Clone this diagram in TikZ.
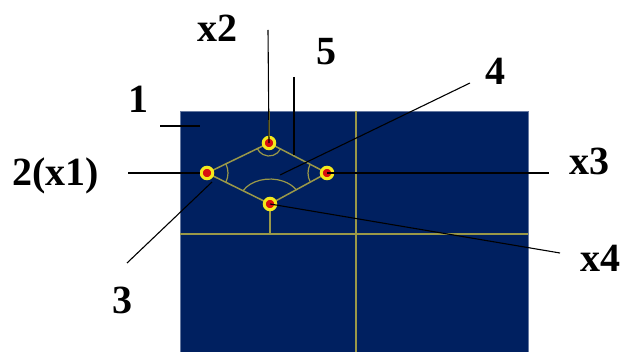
\documentclass[tikz,border=0pt]{standalone}
\usepackage{fontspec}
\setmainfont{Liberation Serif}
\usepackage{tikz}
\usetikzlibrary{positioning,calc}
\definecolor{PanelNavy}{HTML}{002060}
\definecolor{GridOlive}{HTML}{9A9848}
\definecolor{JointRed}{HTML}{D81010}
\definecolor{JointYellow}{HTML}{F4E81C}
\tikzset{
  panel/.style={fill=PanelNavy,draw=PanelNavy!60!white,line width=0.6pt},
  grid/.style={draw=GridOlive,line width=1.5pt},
  angarc/.style={draw=GridOlive,line width=1.2pt},
  lead/.style={draw=black,line width=1.1pt},
  joint/.style={circle,fill=JointRed,draw=JointYellow,line width=3pt,minimum size=11.5pt,inner sep=0pt},
  lbl/.style={font=\fontsize{40}{42}\selectfont\bfseries,inner sep=0pt,anchor=base}
}

\begin{document}
\begin{tikzpicture}[x=1pt,y=-1pt]
\useasboundingbox (0,0) rectangle (620,352);
% plate
\fill[panel] (180,111) rectangle (528,352);
\coordinate (ptop) at (269,143);
\coordinate (pleft) at (207,173);
\coordinate (pright) at (327,173);
\coordinate (pbot) at (270,204);
\draw[grid] (356,111) -- (356,352);
\draw[grid] (180,234) -- (528,234);
\draw[grid] (ptop) -- (pright) -- (pbot) -- (pleft) -- cycle;
\draw[grid] (pbot) -- (270,234);
\draw[grid] (pleft) -- (180,173);
\draw[grid] (ptop) -- (269,111);
\draw[grid] (pright) -- (356,173);

% angles
\draw[angarc] ($(ptop)+(27:13)$) arc[start angle=27,end angle=154,radius=13];
\draw[angarc] ($(pleft)+(-26:21)$) arc[start angle=-26,end angle=26,radius=21];
\draw[angarc] ($(pright)+(151:19)$) arc[start angle=151,end angle=208,radius=19];
\draw[angarc] ($(pbot)+(206:30)$) arc[start angle=206,end angle=332,x radius=30,y radius=21];

% joints
\node[joint] (jtop) at (ptop) {};
\node[joint] (jleft) at (pleft) {};
\node[joint] (jright) at (pright) {};
\node[joint] (jbot) at (pbot) {};

% labels
\node[lbl] (lx2) at (217,42) {x2};
\node[lbl] (l5) at (326,65) {5};
\node[lbl] (l1) at (138,113) {1};
\node[lbl] (l4) at (495,85) {4};
\node[lbl] (lx1) at (56,186) {2(x1)};
\node[lbl] (l3) at (122,313) {3};
\node[lbl] (lx3) at (589,175) {x3};
\node[lbl] (lx4) at (600,272) {x4};

% leader ends
\coordinate (ex2) at (268,30);
\coordinate (e5a) at (294,77);
\coordinate (e5b) at (294,155);
\coordinate (e4a) at (470,83);
\coordinate (e4b) at (280,175);
\coordinate (e1a) at (160,126);
\coordinate (e1b) at (200,126);
\coordinate (ex1) at (128,173);
\coordinate (e3a) at (127,263);
\coordinate (e3b) at (212,182);
\coordinate (ex3) at (549,173);
\coordinate (ex4) at (560,253);

\draw[lead] (ex2) -- (jtop.center);
\draw[lead] (e5a) -- (e5b);
\draw[lead] (e4a) -- (e4b);
\draw[lead] (e1a) -- (e1b);
\draw[lead] (ex1) -- (jleft.west);
\draw[lead] (e3a) -- (e3b);
\draw[lead] (jright.center) -- (ex3);
\draw[lead] (jbot.center) -- (ex4);
\end{tikzpicture}
\end{document}
